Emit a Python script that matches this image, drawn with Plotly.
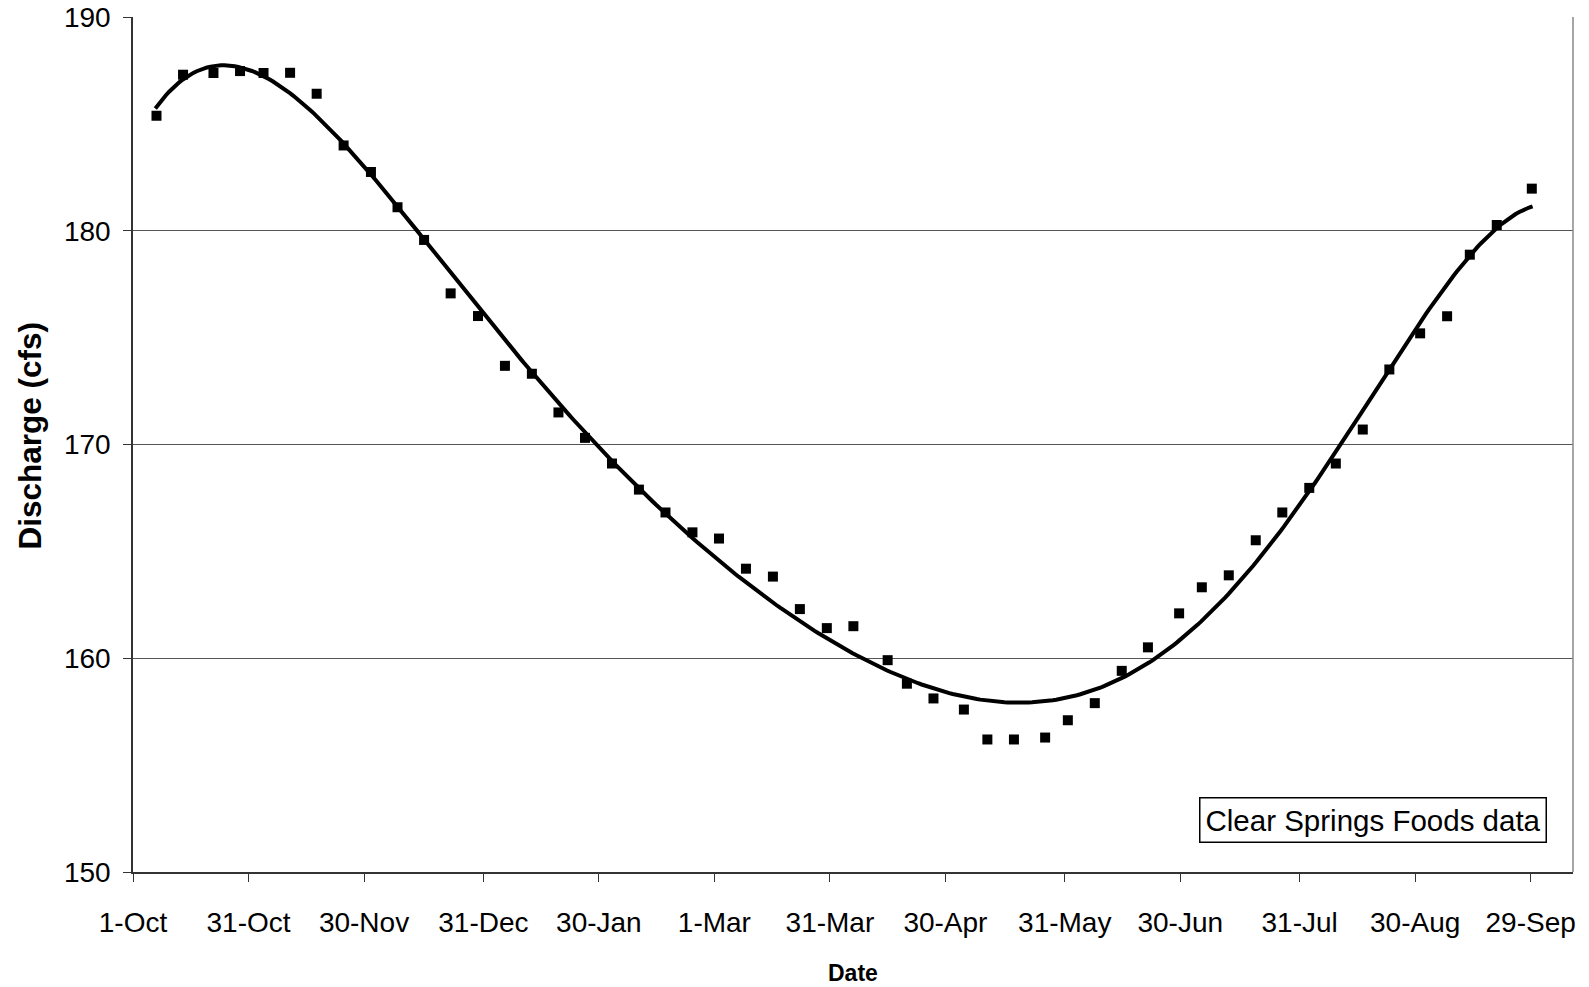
import numpy as np
import plotly.graph_objects as go

# Day of water year (0 = 1-Oct) and discharge (cfs)
days = [6.1, 13.0, 20.9, 27.8, 33.9, 40.8, 47.7, 54.7, 61.8, 68.7, 75.6,
        82.5, 89.6, 96.6, 103.6, 110.5, 117.4, 124.4, 131.4,
        138.3, 145.3, 152.2, 159.2, 166.2, 173.2, 180.2, 187.1, 196.0, 201.0, 207.9, 215.8,
        221.9, 228.8, 236.9, 242.8, 249.8, 256.8, 263.6, 271.7, 277.6, 284.6,
        291.6, 298.5, 305.5, 312.4, 319.4, 326.3, 334.3, 341.3, 347.2, 354.2, 363.3]
discharge = [185.38, 187.30, 187.38, 187.47, 187.38, 187.39, 186.41, 183.99, 182.75, 181.10, 179.57,
             177.07, 176.01, 173.68, 173.31, 171.50, 170.31, 169.11, 167.89,
             166.82, 165.89, 165.60, 164.19, 163.82, 162.30, 161.41, 161.50, 159.91, 158.81, 158.12, 157.60,
             156.20, 156.20, 156.29, 157.10, 157.90, 159.41, 160.51, 162.10, 163.32, 163.88,
             165.52, 166.82, 167.97, 169.11, 170.70, 173.51, 175.20, 176.00, 178.88, 180.27, 181.97]

tick_days = [0, 30, 60, 91, 121, 151, 181, 211, 242, 272, 303, 333, 363]
tick_labels = ["1-Oct", "31-Oct", "30-Nov", "31-Dec", "30-Jan", "1-Mar", "31-Mar",
               "30-Apr", "31-May", "30-Jun", "31-Jul", "30-Aug", "29-Sep"]
y_ticks = [150, 160, 170, 180, 190]

# Polynomial trend line (6th order, as in the spreadsheet trendline)
t = (np.array(days) - 180.0) / 180.0
coef = np.polyfit(t, discharge, 6)
trend_x = np.linspace(5.8, 363.5, 400)
trend_y = np.polyval(coef, (trend_x - 180.0) / 180.0)

FONT = "Arial, 'Liberation Sans', sans-serif"

fig = go.Figure()
fig.add_trace(go.Scatter(x=trend_x, y=trend_y, mode="lines",
                         line=dict(color="black", width=4), hoverinfo="skip"))
fig.add_trace(go.Scatter(x=days, y=discharge, mode="markers",
                         marker=dict(symbol="square", size=10, color="black")))

fig.update_layout(
    width=1589, height=987,
    margin=dict(l=133, r=16, t=17, b=115),
    plot_bgcolor="white", paper_bgcolor="white",
    showlegend=False,
    font=dict(family=FONT, color="black"),
    xaxis=dict(range=[0, 374], tickmode="array", tickvals=tick_days, ticktext=tick_labels,
               ticks="outside", ticklen=8, tickcolor="#333", tickwidth=1,
               showline=True, linecolor="#333", linewidth=1.5,
               showgrid=False, zeroline=False, automargin=False,
               tickfont=dict(size=28, family=FONT), ticklabelstandoff=17),
    yaxis=dict(range=[150, 190], tickvals=y_ticks,
               ticks="outside", ticklen=8, tickcolor="#333", tickwidth=1,
               showline=True, linecolor="#333", linewidth=1.5,
               showgrid=True, gridcolor="#555", gridwidth=1,
               zeroline=False, automargin=False,
               tickfont=dict(size=28, family=FONT), ticklabelstandoff=7),
    shapes=[dict(type="line", xref="paper", yref="paper", x0=1, x1=1, y0=0, y1=1,
                 line=dict(color="#888", width=1.5))],
    annotations=[
        dict(text="<b>Date</b>", xref="paper", yref="paper", x=0.5, y=0,
             xanchor="center", yanchor="middle", yshift=-101, showarrow=False,
             font=dict(size=23, family=FONT)),
        dict(text="<b>Discharge (cfs)</b>", xref="paper", yref="paper", x=0, y=0.5,
             xanchor="center", yanchor="middle", xshift=-104, yshift=9, textangle=-90,
             showarrow=False, font=dict(size=31.5, family=FONT)),
        dict(text="Clear Springs Foods data", xref="paper", yref="paper", x=0.982, y=0.0344,
             xanchor="right", yanchor="bottom", showarrow=False,
             font=dict(size=29.5, family=FONT), bordercolor="black", borderwidth=1.5,
             borderpad=5, bgcolor="white"),
    ],
)

fig.write_html("out.html")
